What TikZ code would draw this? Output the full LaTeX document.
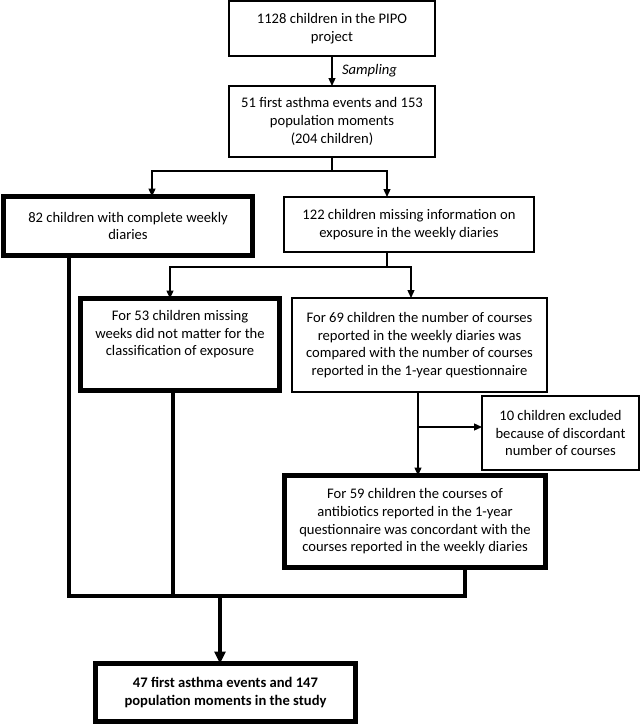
\documentclass[tikz,border=0pt]{standalone}
\usepackage{fontspec}
\setmainfont{Carlito}
\usetikzlibrary{arrows.meta}
\begin{document}
\begin{tikzpicture}[x=1pt,y=-1pt,
  every node/.style={font=\fontsize{14.6}{17.6}\selectfont, align=center, inner sep=0pt, outer sep=0pt},
  thinbox/.style={draw, line width=1.2pt},
  thickbox/.style={draw, line width=5pt},
  thinline/.style={line width=1.3pt},
  thinarrow/.style={line width=1.3pt, -{Triangle[length=8pt,width=7pt]}},
  thickline/.style={line width=4.5pt, line join=miter},
  thickarrow/.style={line width=4.5pt, -{Triangle[length=12pt,width=11pt]}}]
\useasboundingbox (0,0) rectangle (640,725);

\node[thinbox, minimum width=206, minimum height=55] (b1) at (332,28.5)
  {1128 children in the PIPO\\project};
\node[thinbox, minimum width=206, minimum height=71] (b2) at (332,121.5)
  {51 first asthma events and 153\\population moments\\(204 children)};
\node[thickbox, minimum width=249, minimum height=59] (b82) at (128,226)
  {82 children with complete weekly\\diaries};
\node[thinbox, minimum width=250, minimum height=55] (b122) at (409,224.5)
  {122 children missing information on\\exposure in the weekly diaries};
\node[thickbox, minimum width=199, minimum height=92] (b53) at (180,344.5)
  {For 53 children missing\\weeks did not matter for the\\classification of exposure\\\strut};
\node[thinbox, minimum width=255, minimum height=94] (b69) at (419.5,345)
  {For 69 children the number of courses\\reported in the weekly diaries was\\compared with the number of courses\\reported in the 1-year questionnaire};
\node[thinbox, minimum width=157, minimum height=74] (b10) at (560.5,433)
  {10 children excluded\\because of discordant\\number of courses};
\node[thickbox, minimum width=261, minimum height=92] (b59) at (415,521.5)
  {For 59 children the courses of\\antibiotics reported in the 1-year\\questionnaire was concordant with the\\courses reported in the weekly diaries};
\node[thickbox, minimum width=260, minimum height=58] (bf) at (225.5,692.5)
  {\bfseries 47 first asthma events and 147\\\bfseries population moments in the study};

% sampling
\draw[thinarrow] (b1.south) -- node[right=10pt] (samp) {\itshape Sampling} (b2.north);

% split 1
\coordinate (j1) at (332,171);
\coordinate (j1l) at (152,171);
\coordinate (j1r) at (387,171);
\draw[thinline] (b2.south) -- (j1);
\draw[thinarrow] (j1l -| j1r) -- (j1l) -- (j1l |- b82.north);
\draw[thinarrow] (j1) -- (j1r) -- (j1r |- b122.north);

% split 2
\coordinate (j2) at (387,267);
\coordinate (j2l) at (170,267);
\coordinate (j2r) at (411,267);
\draw[thinline] (j2 |- b122.south) -- (j2);
\draw[thinarrow] (j2) -- (j2l) -- (j2l |- b53.north);
\draw[thinarrow] (j2) -- (j2r) -- (j2r |- b69.north);

% exclusion
\coordinate (j3) at (418,427);
\draw[thinarrow] (j3 |- b69.south) -- (j3 |- b59.north);
\draw[thinarrow] (j3) -- (j3 -| b10.west);

% merge
\coordinate (k1) at (69,596);
\coordinate (k2) at (173,596);
\coordinate (k3) at (465,596);
\coordinate (km) at (220,596);
\draw[thickline] (k1 |- b82.south) -- (k1) -- (k3) -- (k3 |- b59.south);
\draw[thickline] (k2 |- b53.south) -- (k2);
\draw[thickarrow] (km) -- (km |- bf.north);
\end{tikzpicture}
\end{document}
